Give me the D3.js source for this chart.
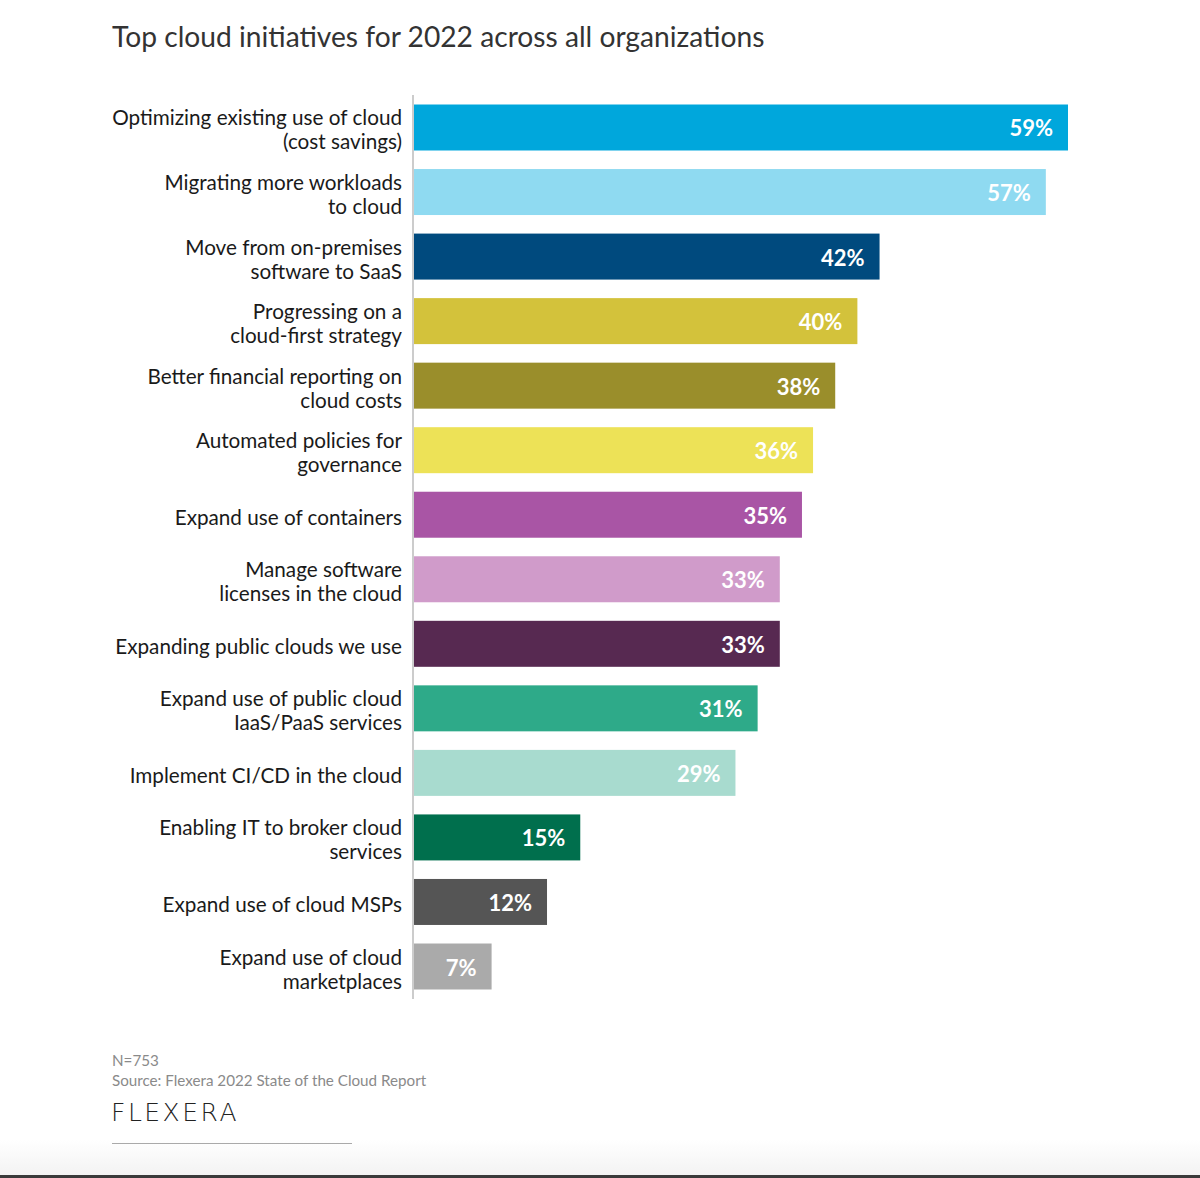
<!DOCTYPE html>
<html><head><meta charset="utf-8">
<script src="https://cdn.jsdelivr.net/npm/d3@7"></script>
<style>html,body{margin:0;padding:0;background:#fff;}svg{display:block;}</style>
</head><body>
<script>
const categories = [
  ["Optimizing existing use of cloud","(cost savings)"],
  ["Migrating more workloads","to cloud"],
  ["Move from on-premises","software to SaaS"],
  ["Progressing on a","cloud-first strategy"],
  ["Better financial reporting on","cloud costs"],
  ["Automated policies for","governance"],
  ["Expand use of containers"],
  ["Manage software","licenses in the cloud"],
  ["Expanding public clouds we use"],
  ["Expand use of public cloud","IaaS/PaaS services"],
  ["Implement CI/CD in the cloud"],
  ["Enabling IT to broker cloud","services"],
  ["Expand use of cloud MSPs"],
  ["Expand use of cloud","marketplaces"]
];
const values = [59,57,42,40,38,36,35,33,33,31,29,15,12,7];
const colors = ["#00a7dc","#8fdaf1","#004a7e","#d3c23b","#9a8e2b","#ede257","#a955a5","#d09bca","#572951","#2eaa89","#a8dbcf","#006f4d","#555555","#aaaaaa"];
const title = "Top cloud initiatives for 2022 across all organizations";
const footnotes = ["N=753","Source: Flexera 2022 State of the Cloud Report"];

const W=1200,H=1178;
const svg=d3.select("body").append("svg").attr("width",W).attr("height",H);
const font="'Source Sans Pro','Lato','Noto Sans',sans-serif";

// bottom strip
const defs=svg.append("defs");
const g=defs.append("linearGradient").attr("id","bg").attr("x1",0).attr("x2",0).attr("y1",0).attr("y2",1);
g.append("stop").attr("offset","0").attr("stop-color","#fff");
g.append("stop").attr("offset","1").attr("stop-color","#f3f3f3");
svg.append("rect").attr("x",0).attr("y",1140).attr("width",W).attr("height",35).attr("fill","url(#bg)");
svg.append("rect").attr("x",0).attr("y",1175).attr("width",W).attr("height",3).attr("fill","#3a3a3a");

svg.append("text").attr("x",112).attr("y",47).attr("font-family",font).attr("font-size",28.2)
  .attr("fill","#333").text(title);

const x=d3.scaleLinear().domain([0,59]).range([414,1068]);
const y=d3.scaleBand().domain(d3.range(values.length)).range([104.5-9.27,989.5+9.27]).paddingInner(0.2874).paddingOuter(0.1437);

svg.append("line").attr("x1",413).attr("x2",413).attr("y1",95).attr("y2",999).attr("stroke","#bbb").attr("stroke-width",1.5);

const rows=svg.selectAll("g.row").data(values).join("g").attr("class","row");
rows.append("rect").attr("x",x(0)).attr("y",(d,i)=>y(i)).attr("width",d=>x(d)-x(0)).attr("height",y.bandwidth())
  .attr("fill",(d,i)=>colors[i]);
rows.append("text").attr("x",d=>x(d)-15).attr("y",(d,i)=>y(i)+y.bandwidth()/2+9).attr("text-anchor","end")
  .attr("font-family",font).attr("font-weight",700).attr("font-size",22).attr("fill","#fff").text(d=>d+"%");
rows.each(function(d,i){
  const lines=categories[i];
  const cy=y(i)+y.bandwidth()/2+3;
  const t=d3.select(this).append("text").attr("text-anchor","end").attr("font-family",font).attr("font-size",20.7).attr("fill","#1a1a1a");
  lines.forEach((l,k)=>{
    t.append("tspan").attr("x",402).attr("y",cy+(k-(lines.length-1)/2)*24+7).text(l);
  });
});

footnotes.forEach((f,k)=>{
  svg.append("text").attr("x",112).attr("y",1066+k*20).attr("font-family",font).attr("font-size",15.2).attr("fill","#8a8a8a").text(f);
});
svg.append("text").attr("x",111).attr("y",1121).attr("font-family","'DejaVu Sans',sans-serif").attr("font-size",25)
  .attr("letter-spacing",2.5).attr("fill","#222").attr("font-weight",300).text("FLEXERA");
svg.append("line").attr("x1",112).attr("x2",352).attr("y1",1143.5).attr("y2",1143.5).attr("stroke","#aaa").attr("stroke-width",1);
</script>
</body></html>
